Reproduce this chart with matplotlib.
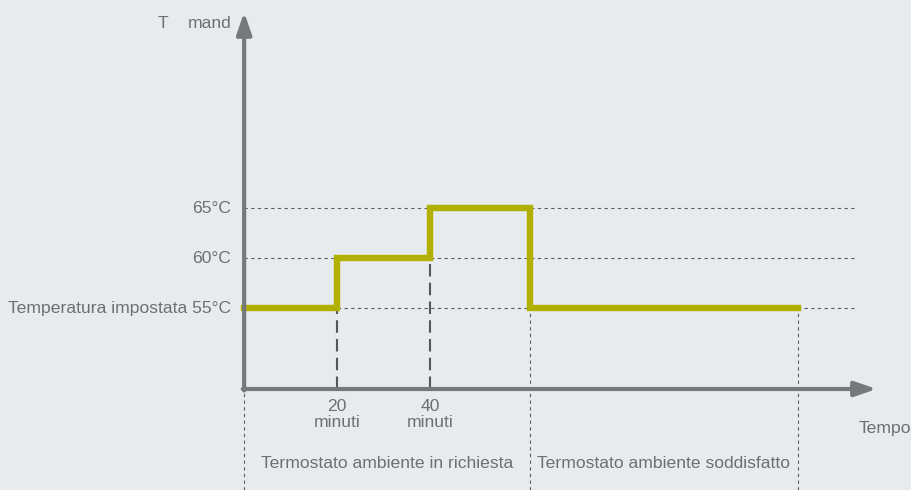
import matplotlib.pyplot as plt

# Dati dello schema
tempi = [0, 20, 40, 61.5, 119]          # minuti (schematico)
temperature = [55, 60, 65, 55, 55]      # °C
livelli = [55, 60, 65]
etichette_y = ['Temperatura impostata 55°C', '60°C', '65°C']
tick_x = [20, 40]
etichette_x = ['20\nminuti', '40\nminuti']
zone = ['Termostato ambiente in richiesta', 'Termostato ambiente soddisfatto']

sfondo = '#e8ebee'
grigio = '#76797c'
testo = '#6d7073'
oliva = '#b1af00'

plt.rcParams['font.family'] = ['Liberation Sans', 'DejaVu Sans']

fig = plt.figure(figsize=(9.11, 4.9), dpi=100, facecolor=sfondo)
ax = fig.add_axes([0, 0, 1, 1])
ax.set_facecolor(sfondo)
ax.set_xlim(-52.5, 143.4)
ax.set_ylim(36.83, 85.83)
ax.axis('off')

y0 = 46.93      # quota asse tempo
x_fine = 131.6

# linee guida orizzontali
for liv in livelli:
    ax.plot([0, x_fine], [liv, liv], ls=(0, (3, 3)), lw=0.8, color='#5a5c5e', zorder=1)

# linee verticali ai minuti
for i in (1, 2):
    ax.plot([tempi[i], tempi[i]], [y0, temperature[i - 1]], ls=(0, (6, 3)), lw=1.5,
            color='#55575a', zorder=1)

# separatori delle zone
ax.plot([0, 0], [36.83, y0], ls=(0, (3, 3)), lw=0.8, color='#5a5c5e')
for t in tempi[3:]:
    ax.plot([t, t], [36.83, 55], ls=(0, (3, 3)), lw=0.8, color='#5a5c5e', zorder=1)

# andamento della temperatura
ax.step(tempi, temperature, where='post', color=oliva, lw=4.6, zorder=3,
        solid_joinstyle='miter')

# assi con frecce
ax.annotate('', xy=(0, 84.6), xytext=(0, y0 - 0.15),
            arrowprops=dict(arrowstyle='-|>,head_length=1.3,head_width=0.45',
                            lw=3, color=grigio, shrinkA=0, shrinkB=0), zorder=4)
ax.annotate('', xy=(136.0, y0), xytext=(-0.3, y0),
            arrowprops=dict(arrowstyle='-|>,head_length=1.3,head_width=0.45',
                            lw=3, color=grigio, shrinkA=0, shrinkB=0), zorder=4)

fs = 12.6
for liv, et in zip(livelli, etichette_y):
    ax.text(-2.8, liv, et, ha='right', va='center', fontsize=fs, color=testo)

for t, et in zip(tick_x, etichette_x):
    ax.text(t, y0 - 1.0, et, ha='center', va='top', fontsize=fs, color=testo,
            linespacing=1.05)

ax.text(-17.5, 83.5, 'T', ha='center', va='center', fontsize=fs, color=testo)
ax.text(-7.5, 83.5, 'mand', ha='center', va='center', fontsize=fs, color=testo)
ax.text(143.4, 43.0, 'Tempo', ha='right', va='center', fontsize=fs, color=testo)

for (a, b), et in zip([(tempi[0], tempi[3]), (tempi[3], tempi[4])], zone):
    ax.text((a + b) / 2, 39.5, et, ha='center', va='center', fontsize=fs,
            color=testo)

fig.savefig('out.png', dpi=100, facecolor=sfondo)
